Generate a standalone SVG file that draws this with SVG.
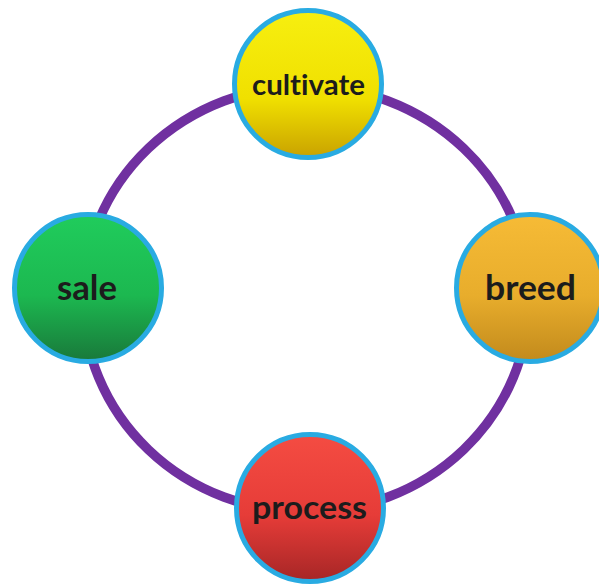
<svg xmlns="http://www.w3.org/2000/svg" width="599" height="585" viewBox="0 0 599 585">
  <defs>
    <linearGradient id="gY" x1="0" y1="0" x2="0" y2="1">
      <stop offset="0" stop-color="#f7ef10"/>
      <stop offset="0.6" stop-color="#f0e000"/>
      <stop offset="1" stop-color="#c9a200"/>
    </linearGradient>
    <linearGradient id="gG" x1="0" y1="0" x2="0" y2="1">
      <stop offset="0" stop-color="#20cc5c"/>
      <stop offset="0.55" stop-color="#1cb850"/>
      <stop offset="1" stop-color="#19783a"/>
    </linearGradient>
    <linearGradient id="gO" x1="0" y1="0" x2="0" y2="1">
      <stop offset="0" stop-color="#f6bb36"/>
      <stop offset="0.55" stop-color="#e8ad2c"/>
      <stop offset="1" stop-color="#c28a1c"/>
    </linearGradient>
    <linearGradient id="gR" x1="0" y1="0" x2="0" y2="1">
      <stop offset="0" stop-color="#f44c42"/>
      <stop offset="0.55" stop-color="#e63c38"/>
      <stop offset="1" stop-color="#a62626"/>
    </linearGradient>
  </defs>
  <style>
    .ring { fill: none; stroke: #7030a0; stroke-width: 9.5; }
    .node { stroke: #29abe2; stroke-width: 5; }
    .lbl { font-family: Lato, "Open Sans", sans-serif; font-weight: bold; fill: #1c1c1c; text-anchor: middle; font-variant-ligatures: none; font-feature-settings: "liga" 0; }
  </style>
  <rect width="599" height="585" fill="#ffffff"/>
  <g id="connectors">
    <ellipse class="ring" cx="306" cy="299" rx="223" ry="213"/>
  </g>
  <g id="node-cultivate">
    <circle class="node" cx="308" cy="84" r="73.5" fill="url(#gY)"/>
    <text class="lbl" x="308.5" y="95" font-size="29" textLength="113" lengthAdjust="spacingAndGlyphs">cultivate</text>
  </g>
  <g id="node-breed">
    <circle class="node" cx="530" cy="288" r="73.5" fill="url(#gO)"/>
    <text class="lbl" x="530.5" y="300" font-size="34" textLength="91" lengthAdjust="spacingAndGlyphs">breed</text>
  </g>
  <g id="node-process">
    <circle class="node" cx="310" cy="508" r="73.5" fill="url(#gR)"/>
    <text class="lbl" x="309.5" y="519" font-size="33" textLength="115" lengthAdjust="spacingAndGlyphs">process</text>
  </g>
  <g id="node-sale">
    <circle class="node" cx="88" cy="288" r="73.5" fill="url(#gG)"/>
    <text class="lbl" x="87" y="300" font-size="35" textLength="60" lengthAdjust="spacingAndGlyphs">sale</text>
  </g>
</svg>
